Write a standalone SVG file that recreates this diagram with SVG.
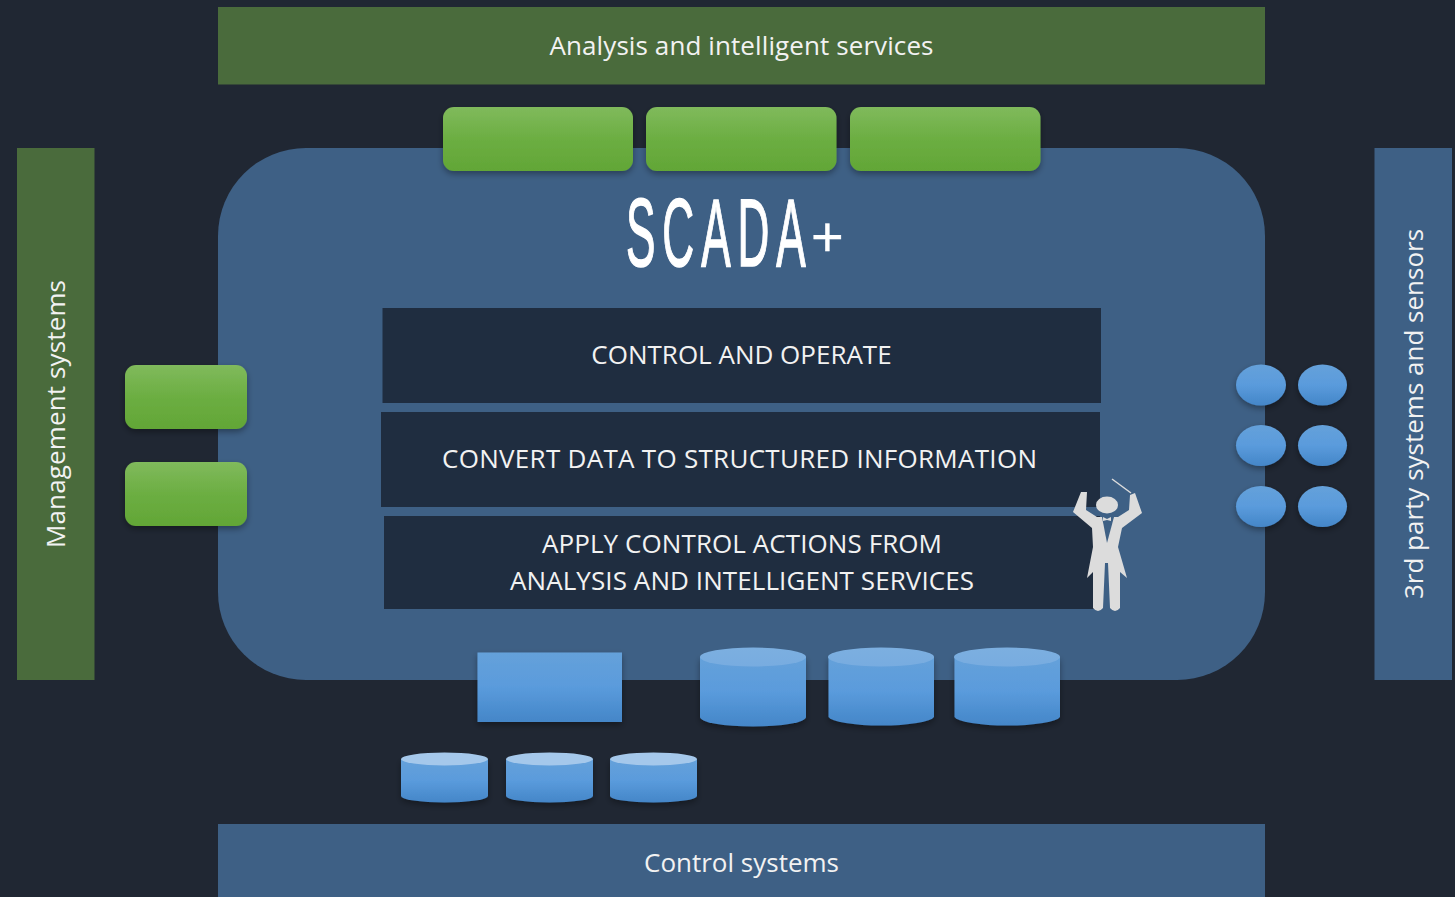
<svg xmlns="http://www.w3.org/2000/svg" width="1455" height="897" viewBox="0 0 1455 897">
<style>
.t{font-family:"Open Sans","Noto Sans","DejaVu Sans",sans-serif;font-size:26px;fill:#f2f2f2;text-anchor:middle}
.g{fill:#4a6b3c}.b{fill:#3e6085}.d{fill:#1f2d40}
.gb{fill:url(#gg);filter:url(#sh)}
.bb{fill:url(#bg);filter:url(#sh)}
.top{fill:url(#tg)}
.top2{fill:#a5c8eb}
.s{font-family:"Liberation Sans",Arial,sans-serif;fill:#fff;stroke:#fff}
</style>
<defs>
<linearGradient id="gg" x1="0" y1="0" x2="0" y2="1"><stop offset="0" stop-color="#80ba5c"/><stop offset="0.5" stop-color="#6cae42"/><stop offset="1" stop-color="#62a636"/></linearGradient>
<linearGradient id="bg" x1="0" y1="0" x2="0" y2="1"><stop offset="0" stop-color="#65a1da"/><stop offset="0.5" stop-color="#5a9bdc"/><stop offset="1" stop-color="#4486c8"/></linearGradient>
<linearGradient id="tg" x1="0" y1="0" x2="0" y2="1"><stop offset="0" stop-color="#7cafe0"/><stop offset="1" stop-color="#78ace0"/></linearGradient>
<filter id="sh" x="-15%" y="-15%" width="130%" height="140%"><feDropShadow dx="0" dy="3" stdDeviation="3" flood-color="#000" flood-opacity="0.35"/></filter>
</defs>
<rect width="1455" height="897" fill="#202733"/>
<g id="analysis"><rect class="g" x="218" y="7" width="1047" height="77.500"/><text class="t" x="741.500" y="55" textLength="384">Analysis and intelligent services</text></g>
<g id="management"><rect class="g" x="17" y="148" width="77.500" height="532"/><text class="t" transform="translate(65 414) rotate(-90)" textLength="268">Management systems</text></g>
<g id="third-party"><rect class="b" x="1374.500" y="148" width="77.500" height="532"/><text class="t" transform="translate(1423 414) rotate(-90)">3rd party systems and sensors</text></g>
<g id="control-systems"><rect class="b" x="218" y="824" width="1047" height="73"/><text class="t" x="741.500" y="872">Control systems</text></g>
<g id="scada"><rect class="b" x="218" y="148" width="1047" height="532" rx="88"/>
<text class="s" transform="translate(626 266) scale(0.46 1)" font-size="96" stroke-width="1.500" letter-spacing="15">SCADA</text>
<text class="s" transform="translate(811 256)" font-size="56" stroke-width="0.300">+</text></g>
<g id="layer-control"><rect class="d" x="382.500" y="308" width="718.500" height="95"/><text class="t" x="741.500" y="364">CONTROL AND OPERATE</text></g>
<g id="layer-convert"><rect class="d" x="381" y="412" width="719" height="95"/><text class="t" x="739.500" y="468" textLength="595">CONVERT DATA TO STRUCTURED INFORMATION</text></g>
<g id="layer-apply"><rect class="d" x="384" y="516" width="716" height="93"/><text class="t" x="742" y="553" textLength="400">APPLY CONTROL ACTIONS FROM</text><text class="t" x="742" y="590" textLength="464">ANALYSIS AND INTELLIGENT SERVICES</text></g>
<g id="conductor" fill="#dcdcdc">
<path d="M1081 492 L1087 492 L1086 510 L1097 517 L1118 517 L1129 510 L1130 495 L1135 493 L1142 513 L1122 528 L1118 547 L1127 578 L1120 572 L1120 608 Q1115 614 1110 608 L1108 563 L1105 563 L1103 608 Q1098 614 1093 608 L1093 572 L1087 578 L1093 547 L1092 528 L1073 512 Z"/>
<path d="M1102 517 L1114 517 L1107 543 Z" fill="#3e6085"/>
<ellipse cx="1107" cy="505" rx="11" ry="8.500"/>
<path d="M1103 517 L1107 519 L1111 517 L1111 521 L1107 520 L1103 521 Z"/>
<path d="M1112 479 L1131 493" stroke="#dcdcdc" stroke-width="1.500" fill="none"/>
</g>
<g id="top-buttons"><rect class="gb" x="443" y="107" width="190" height="64" rx="11"/><rect class="gb" x="646" y="107" width="190.500" height="64" rx="11"/><rect class="gb" x="850" y="107" width="190.500" height="64" rx="11"/></g>
<g id="left-buttons"><rect class="gb" x="125" y="365" width="122" height="64" rx="11"/><rect class="gb" x="125" y="462" width="122" height="64" rx="11"/></g>
<g id="sensors">
<ellipse class="bb" cx="1261" cy="385" rx="25" ry="20.500"/><ellipse class="bb" cx="1322.500" cy="385" rx="24.500" ry="20.500"/>
<ellipse class="bb" cx="1261" cy="445.500" rx="25" ry="20.500"/><ellipse class="bb" cx="1322.500" cy="445.500" rx="24.500" ry="20.500"/>
<ellipse class="bb" cx="1261" cy="506.500" rx="25" ry="20.500"/><ellipse class="bb" cx="1322.500" cy="506.500" rx="24.500" ry="20.500"/>
</g>
<g id="box"><rect class="bb" x="477.500" y="652.500" width="144.500" height="69.500"/></g>
<g id="cylinders-large">
<path class="bb" d="M700 657 V717 A53 9.500 0 0 0 806 717 V657 Z"/><ellipse class="top" cx="753" cy="657" rx="53" ry="9.500"/>
<path class="bb" d="M828.500 657 V717 A53 9.500 0 0 0 934 717 V657 Z"/><ellipse class="top" cx="881" cy="657" rx="53" ry="9.500"/>
<path class="bb" d="M954.500 657 V717 A53 9.500 0 0 0 1060 717 V657 Z"/><ellipse class="top" cx="1007" cy="657" rx="53" ry="9.500"/>
</g>
<g id="cylinders-small">
<path class="bb" d="M401 759 V796 A43.500 6.500 0 0 0 488 796 V759 Z"/><ellipse class="top2" cx="444.500" cy="759" rx="43.500" ry="6.500"/>
<path class="bb" d="M506 759 V796 A43.500 6.500 0 0 0 593 796 V759 Z"/><ellipse class="top2" cx="549.500" cy="759" rx="43.500" ry="6.500"/>
<path class="bb" d="M610 759 V796 A43.500 6.500 0 0 0 697 796 V759 Z"/><ellipse class="top2" cx="653.500" cy="759" rx="43.500" ry="6.500"/>
</g>
</svg>
